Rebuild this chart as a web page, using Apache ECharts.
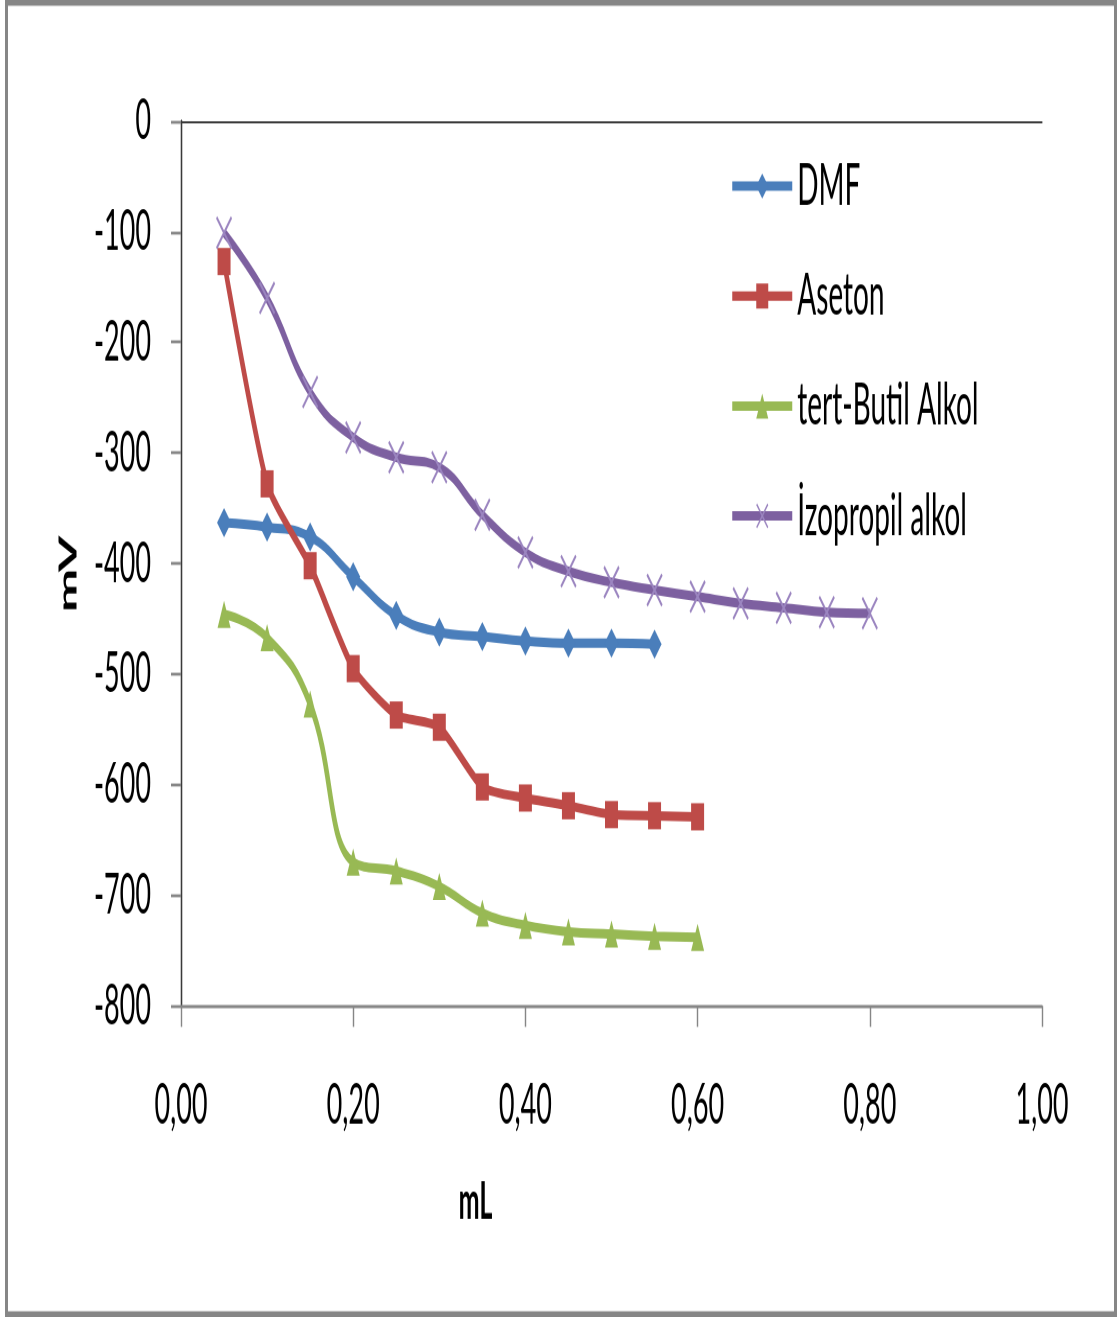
<!DOCTYPE html>
<html>
<head>
<meta charset="utf-8">
<script src="https://cdn.jsdelivr.net/npm/echarts@6/dist/echarts.min.js"></script>
<style>
  html, body { margin: 0; padding: 0; background: #fff; }
  #wrap { width: 1118px; height: 1317px; position: relative; }
  /* the chart is laid out on a short canvas and stretched to full height */
  #chart { position: absolute; left: 0; top: 0; width: 1118px; height: 630px; transform-origin: 0 0; transform: scaleY(2.0905); }
</style>
</head>
<body>
<div id="wrap"><div id="chart"></div></div>
<script>
// titrant volume (mL) and potential (mV) per solvent
const volDMF = [0.05, 0.10, 0.15, 0.20, 0.25, 0.30, 0.35, 0.40, 0.45, 0.50, 0.55];
const mvDMF = [-363, -367, -376, -412, -447, -462, -466, -470, -472, -472, -473];

const volAseton = [0.05, 0.10, 0.15, 0.20, 0.25, 0.30, 0.35, 0.40, 0.45, 0.50, 0.55, 0.60];
const mvAseton = [-127, -328, -402, -495, -537, -548, -602, -612, -619, -627, -628, -629];

const volButil = [0.05, 0.10, 0.15, 0.20, 0.25, 0.30, 0.35, 0.40, 0.45, 0.50, 0.55, 0.60];
const mvButil = [-446, -467, -527, -670, -678, -692, -716, -727, -733, -735, -737, -738];

const volIzo = [0.05, 0.10, 0.15, 0.20, 0.25, 0.30, 0.35, 0.40, 0.45, 0.50, 0.55, 0.60, 0.65, 0.70, 0.75, 0.80];
const mvIzo = [-101, -160, -245, -286, -304, -313, -356, -390, -407, -417, -424, -430, -436, -440, -444, -445];

const seriesNames = ['DMF', 'Aseton', 'tert-Butil Alkol', 'İzopropil alkol'];
const xTickLabels = ['0,00', '0,20', '0,40', '0,60', '0,80', '1,00'];

const FONT = 'Lato, "Noto Sans", sans-serif';
const xSymbol = 'path://M0,1 L1,0 L7,6 L13,0 L14,1 L8,7 L14,13 L13,14 L7,8 L1,14 L0,13 L6,7 Z';

function pairs(xs, ys) { return xs.map((x, i) => [x, ys[i]]); }

function lineSeries(name, xs, ys, color, symbol, size, smooth, markerColor) {
  return {
    name: name,
    type: 'line',
    data: pairs(xs, ys),
    smooth: smooth,
    symbol: symbol,
    symbolSize: size,
    showAllSymbol: true,
    lineStyle: { color: color, width: 4.5 },
    itemStyle: { color: markerColor || color },
    emphasis: { disabled: true },
    z: 3
  };
}

const chart = echarts.init(document.getElementById('chart'), null, { renderer: 'canvas', devicePixelRatio: 2 });

chart.setOption({
  animation: false,
  backgroundColor: '#ffffff',
  textStyle: { fontFamily: FONT },
  graphic: [{
    type: 'rect',
    shape: { x: 6.5, y: 1.3, width: 1109, height: 627.5 },
    style: { fill: 'none', stroke: '#868686', lineWidth: 3 },
    silent: true
  }],
  grid: { left: 181, right: 76, top: 57.9, bottom: 148.8, containLabel: false },
  legend: {
    orient: 'vertical',
    left: 730,
    top: 75,
    padding: 0,
    itemWidth: 60,
    itemHeight: 15,
    itemGap: 24.6,
    data: seriesNames,
    lineStyle: { width: 4.5 },
    textStyle: { fontFamily: FONT, fontSize: 28, lineHeight: 28, color: '#000' }
  },
  xAxis: [{
    type: 'value',
    min: 0, max: 1, interval: 0.2,
    name: 'mL',
    nameLocation: 'middle',
    nameGap: 81,
    nameTextStyle: { fontFamily: FONT, fontSize: 25, fontWeight: 'bold', color: '#000', padding: [0, 272, 0, 0] },
    axisLine: { show: true, onZero: false, lineStyle: { color: '#868686', width: 1.4 } },
    axisTick: { show: true, inside: false, length: 10, lineStyle: { color: '#868686', width: 1.4 } },
    axisLabel: {
      margin: 34, fontFamily: FONT, fontSize: 27, color: '#000',
      formatter: v => xTickLabels[Math.round(v / 0.2)]
    },
    splitLine: { show: false }
  }, {
    type: 'value', position: 'top', min: 0, max: 1,
    axisLine: { show: true, lineStyle: { color: '#3a3a3a', width: 1 } },
    axisTick: { show: false }, axisLabel: { show: false }, splitLine: { show: false }
  }],
  yAxis: [{
    type: 'value',
    min: -800, max: 0, interval: 100,
    name: 'mV',
    nameLocation: 'middle',
    nameGap: 100,
    nameTextStyle: { fontFamily: FONT, fontSize: 25, fontWeight: 'bold', color: '#000', padding: [0, 10, 0, 0] },
    axisLine: { show: true, onZero: false, lineStyle: { color: '#868686', width: 1.4 } },
    axisTick: { show: true, inside: false, length: 10, lineStyle: { color: '#868686', width: 1.4 } },
    axisLabel: { margin: 30, fontFamily: FONT, fontSize: 27, color: '#000' },
    splitLine: { show: false }
  }, {
    type: 'value', position: 'right', min: -800, max: 0,
    axisLine: { show: true, lineStyle: { color: '#3a3a3a', width: 1.4 } },
    axisTick: { show: false }, axisLabel: { show: false }, splitLine: { show: false }
  }],
  series: [
    lineSeries(seriesNames[0], volDMF, mvDMF, '#4a7ebb', 'diamond', 14, 0.45),
    lineSeries(seriesNames[1], volAseton, mvAseton, '#be4b48', 'rect', 13, 0.2),
    lineSeries(seriesNames[2], volButil, mvButil, '#98b954', 'triangle', 13, 0.45),
    lineSeries(seriesNames[3], volIzo, mvIzo, '#7d60a0', xSymbol, 16, 0.45, '#9b85c0')
  ]
});
</script>
</body>
</html>
